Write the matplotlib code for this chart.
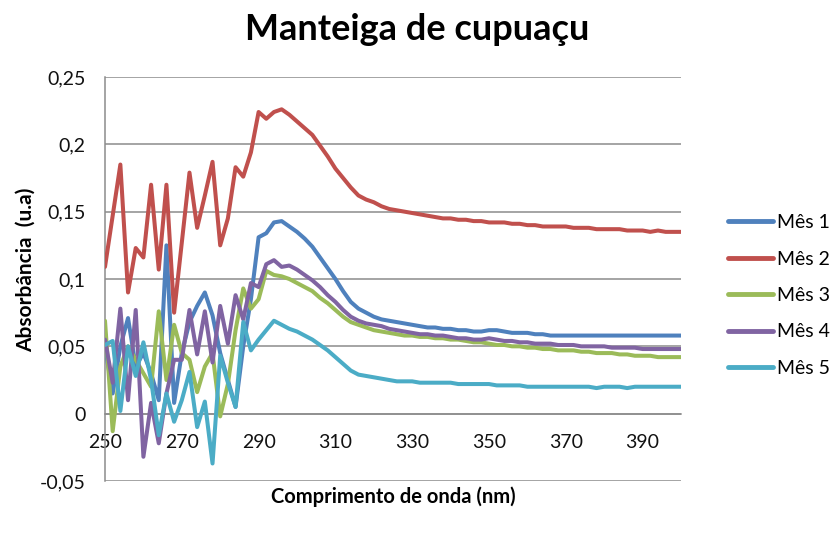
import matplotlib
matplotlib.use('Agg')
import matplotlib.pyplot as plt

# ---------------- data ----------------
wavelengths = list(range(250, 401, 2))

mes1 = [0.050, 0.015, 0.050, 0.071, 0.035, 0.045, 0.030, 0.010, 0.125, 0.008,
        0.045, 0.068, 0.080, 0.090, 0.073, 0.045, 0.025, 0.005, 0.050, 0.085,
        0.131, 0.134, 0.142, 0.143, 0.139, 0.135, 0.130, 0.124, 0.116, 0.108,
        0.100, 0.091, 0.083, 0.078, 0.075, 0.072, 0.070, 0.069, 0.068, 0.067,
        0.066, 0.065, 0.064, 0.064, 0.063, 0.063, 0.062, 0.062, 0.061, 0.061,
        0.062, 0.062, 0.061, 0.060, 0.060, 0.060, 0.059, 0.059, 0.058, 0.058,
        0.058, 0.058, 0.058, 0.058, 0.058, 0.058, 0.058, 0.058, 0.058, 0.058,
        0.058, 0.058, 0.058, 0.058, 0.058, 0.058]

mes2 = [0.109, 0.147, 0.185, 0.090, 0.123, 0.116, 0.170, 0.107, 0.170, 0.075,
        0.127, 0.179, 0.138, 0.162, 0.187, 0.125, 0.145, 0.183, 0.176, 0.194,
        0.224, 0.219, 0.224, 0.226, 0.222, 0.217, 0.212, 0.207, 0.199, 0.191,
        0.182, 0.175, 0.168, 0.162, 0.159, 0.157, 0.154, 0.152, 0.151, 0.150,
        0.149, 0.148, 0.147, 0.146, 0.145, 0.145, 0.144, 0.144, 0.143, 0.143,
        0.142, 0.142, 0.142, 0.141, 0.141, 0.140, 0.140, 0.139, 0.139, 0.139,
        0.139, 0.138, 0.138, 0.138, 0.137, 0.137, 0.137, 0.137, 0.136, 0.136,
        0.136, 0.135, 0.136, 0.135, 0.135, 0.135]

mes3 = [0.069, -0.013, 0.035, 0.050, 0.040, 0.030, 0.020, 0.076, 0.025, 0.066,
        0.045, 0.040, 0.016, 0.035, 0.045, -0.002, 0.022, 0.062, 0.093, 0.078,
        0.085, 0.106, 0.103, 0.102, 0.100, 0.097, 0.094, 0.091, 0.086, 0.082,
        0.077, 0.072, 0.068, 0.066, 0.064, 0.062, 0.061, 0.060, 0.059, 0.058,
        0.058, 0.057, 0.057, 0.056, 0.056, 0.055, 0.055, 0.054, 0.053, 0.053,
        0.052, 0.051, 0.051, 0.050, 0.050, 0.049, 0.049, 0.048, 0.048, 0.047,
        0.047, 0.047, 0.046, 0.046, 0.045, 0.045, 0.045, 0.044, 0.044, 0.043,
        0.043, 0.043, 0.042, 0.042, 0.042, 0.042]

mes4 = [0.055, 0.023, 0.078, 0.010, 0.077, -0.032, 0.008, -0.022, 0.015, 0.040,
        0.040, 0.077, 0.044, 0.076, 0.038, 0.080, 0.052, 0.088, 0.070, 0.097,
        0.094, 0.111, 0.114, 0.109, 0.110, 0.107, 0.103, 0.099, 0.094, 0.088,
        0.083, 0.077, 0.072, 0.069, 0.067, 0.066, 0.065, 0.063, 0.062, 0.061,
        0.060, 0.059, 0.059, 0.058, 0.058, 0.057, 0.056, 0.056, 0.055, 0.055,
        0.056, 0.055, 0.054, 0.054, 0.053, 0.053, 0.052, 0.052, 0.052, 0.051,
        0.051, 0.051, 0.050, 0.050, 0.050, 0.050, 0.049, 0.049, 0.049, 0.049,
        0.048, 0.048, 0.048, 0.048, 0.048, 0.048]

mes5 = [0.051, 0.054, 0.002, 0.050, 0.028, 0.053, 0.025, -0.016, 0.015, -0.006,
        0.010, 0.031, -0.010, 0.009, -0.037, 0.043, 0.023, 0.005, 0.068, 0.047,
        0.055, 0.062, 0.069, 0.066, 0.063, 0.061, 0.058, 0.055, 0.051, 0.047,
        0.042, 0.037, 0.032, 0.029, 0.028, 0.027, 0.026, 0.025, 0.024, 0.024,
        0.024, 0.023, 0.023, 0.023, 0.023, 0.023, 0.022, 0.022, 0.022, 0.022,
        0.022, 0.021, 0.021, 0.021, 0.021, 0.020, 0.020, 0.020, 0.020, 0.020,
        0.020, 0.020, 0.020, 0.020, 0.019, 0.020, 0.020, 0.020, 0.019, 0.020,
        0.020, 0.020, 0.020, 0.020, 0.020, 0.020]

series_names = ['Mês 1', 'Mês 2', 'Mês 3', 'Mês 4', 'Mês 5']
series_values = [mes1, mes2, mes3, mes4, mes5]
colors = ['#4F81BD', '#C0504D', '#9BBB59', '#8064A2', '#4BACC6']

xtick_values = [250, 270, 290, 310, 330, 350, 370, 390]
ytick_values = [-0.05, 0, 0.05, 0.1, 0.15, 0.2, 0.25]
ytick_labels = ['-0,05', '0', '0,05', '0,1', '0,15', '0,2', '0,25']

title_text = 'Manteiga de cupuaçu'
xlabel_text = 'Comprimento de onda (nm)'
ylabel_text = 'Absorbância  (u.a)'

# ---------------- figure ----------------
plt.rcParams['font.family'] = ['Lato', 'DejaVu Sans']
W, H = 834, 533
fig = plt.figure(figsize=(W / 100, H / 100), dpi=100)
ax = fig.add_axes([105 / W, 52 / H, 576 / W, 404 / H])

grid_color = '#8c8c8c'
for name, vals, c in zip(series_names, series_values, colors):
    ax.plot(wavelengths, vals, color=c, lw=2.9, label=name,
            solid_joinstyle='round', solid_capstyle='round', zorder=3)

ax.set_xlim(250, 400)
ax.set_ylim(-0.05, 0.25)
ax.set_yticks(ytick_values)
ax.set_yticklabels(ytick_labels)
ax.set_xticks(xtick_values)
ax.set_xticklabels([str(v) for v in xtick_values])

ax.grid(axis='y', color=grid_color, lw=1.1, zorder=1)
ax.set_axisbelow(True)
ax.spines['top'].set_visible(False)
ax.spines['right'].set_visible(False)
ax.spines['left'].set_color(grid_color)
ax.spines['left'].set_linewidth(1.1)
ax.spines['bottom'].set_position(('data', 0))
ax.spines['bottom'].set_color(grid_color)
ax.spines['bottom'].set_linewidth(1.1)
ax.tick_params(axis='both', length=0, labelsize=14, labelcolor='#111111')
ax.tick_params(axis='y', pad=14)
ax.tick_params(axis='x', pad=15)

fig.text(0.5, 1 - 30 / H, title_text, ha='center', va='center',
         fontsize=26, fontweight='bold', color='black')
fig.text(393 / W, 1 - 497 / H, xlabel_text, ha='center', va='center',
         fontsize=14.5, fontweight='bold', color='black')
fig.text(26 / W, 1 - 270 / H, ylabel_text, ha='center', va='center',
         rotation=90, fontsize=15, fontweight='bold', color='black')

leg = ax.legend(loc='center left', bbox_to_anchor=(728 / W, 1 - 295.5 / H),
                bbox_transform=fig.transFigure, frameon=False, fontsize=14,
                handlelength=2.3, handletextpad=0.2, labelspacing=1.0,
                borderpad=0, borderaxespad=0)
for line in leg.get_lines():
    line.set_linewidth(3.5)

fig.savefig('out.png', dpi=100)
